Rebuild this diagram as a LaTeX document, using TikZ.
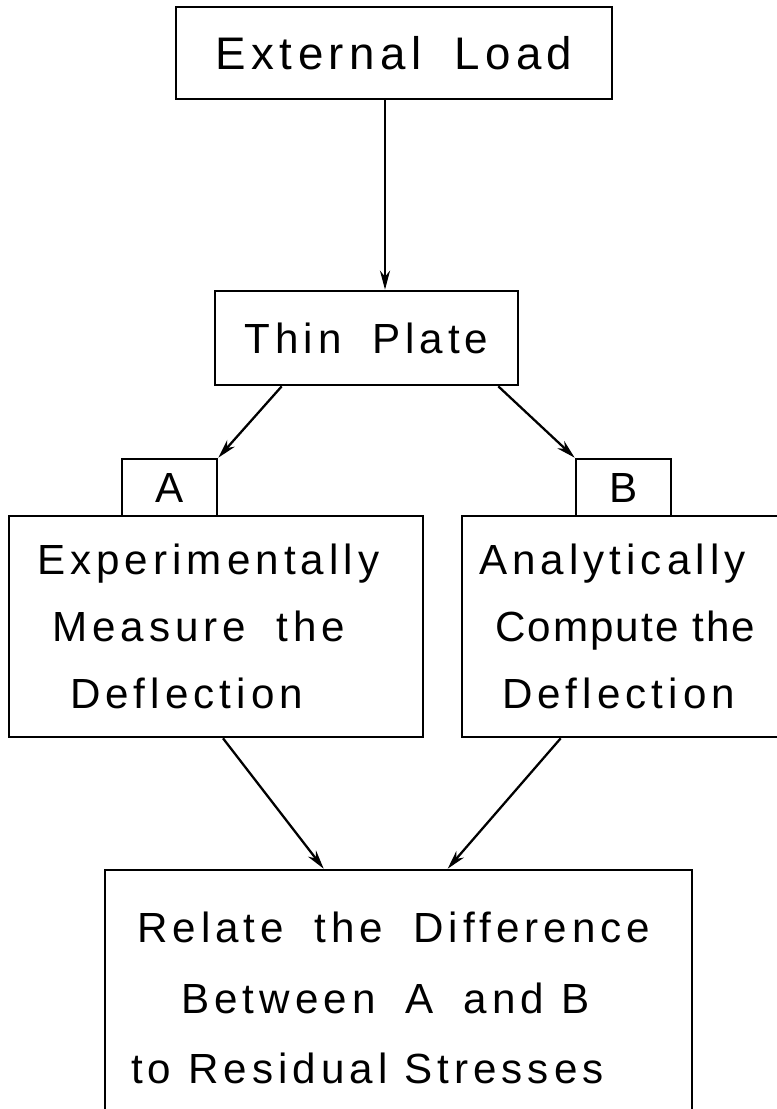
\documentclass[tikz,border=0pt]{standalone}
\usepackage{fontspec}
\setmainfont{Liberation Sans}[LetterSpace=12,WordSpace=1.8]
\newfontfamily\plainspc{Liberation Sans}[LetterSpace=12]
\newfontfamily\tightspc{Liberation Sans}[LetterSpace=5]
\usetikzlibrary{arrows.meta}
\tikzstyle{box} = [
    rectangle,
    draw=black,
    line width=1.5pt,
    inner sep=0pt,
    font=\fontsize{24}{38}\selectfont
]
\tikzstyle{tab} = [
    rectangle,
    draw=black,
    line width=1.5pt,
    inner sep=0pt,
    minimum width=1.9cm,
    minimum height=1.14cm,
    font=\fontsize{24}{28}\selectfont
]
\tikzstyle{arrow} = [line width=1.3pt,-{Stealth[length=0.38cm,width=0.2cm,inset=0.12cm]}]

\begin{document}
\begin{tikzpicture}[x=0.02cm,y=-0.02cm]

\path[use as bounding box, fill=white] (0,0) rectangle (777,1109);

\node (load) [box, minimum width=8.72cm, minimum height=1.84cm,
    font=\fontsize{26}{30}\selectfont] at (394,53)
{External Load};

\node (plate) [box, minimum width=6.06cm, minimum height=1.88cm] at (366.5,338)
{Thin Plate};

\node (expbox) [box, align=flush left, text width=7.16cm, minimum width=8.28cm, minimum height=4.42cm] at (216,626.5)
{Experimentally\\\hspace{0.3cm}Measure the\\\hspace{0.66cm}Deflection};

\node (anabox) [box, align=flush left, text width=5.68cm, minimum width=6.36cm, minimum height=4.42cm] at (621,626.5)
{Analytically\\\hspace{0.32cm}{\tightspc Compute the}\\\hspace{0.46cm}Deflection};

\node (tabA) [tab] at (169.5,487.5) {A};
\node (tabB) [tab] at (623.5,487.5) {B};

\node (result) [box, align=flush left, text width=10.7cm, minimum width=11.74cm, minimum height=5.12cm,
    font=\fontsize{24}{40}\selectfont] at (398.5,998)
{\hspace{0.12cm}Relate the Difference\\\hspace{1cm}Between A {\plainspc and B}\\{\plainspc to Residual Stresses}};

\draw [arrow] ([xshift=-0.18cm]load.south) -- ([xshift=-0.18cm]load.south |- plate.north);
\draw [arrow] ([xshift=1.36cm]plate.south west) -- (tabA.north east);
\draw [arrow] ([xshift=-0.42cm]plate.south east) -- (tabB.north west);
\draw [arrow] ([xshift=0.14cm]expbox.south) -- ([xshift=4.4cm]result.north west);
\draw [arrow] ([xshift=2cm]anabox.south west) -- ([xshift=6.88cm]result.north west);

\end{tikzpicture}
\end{document}
